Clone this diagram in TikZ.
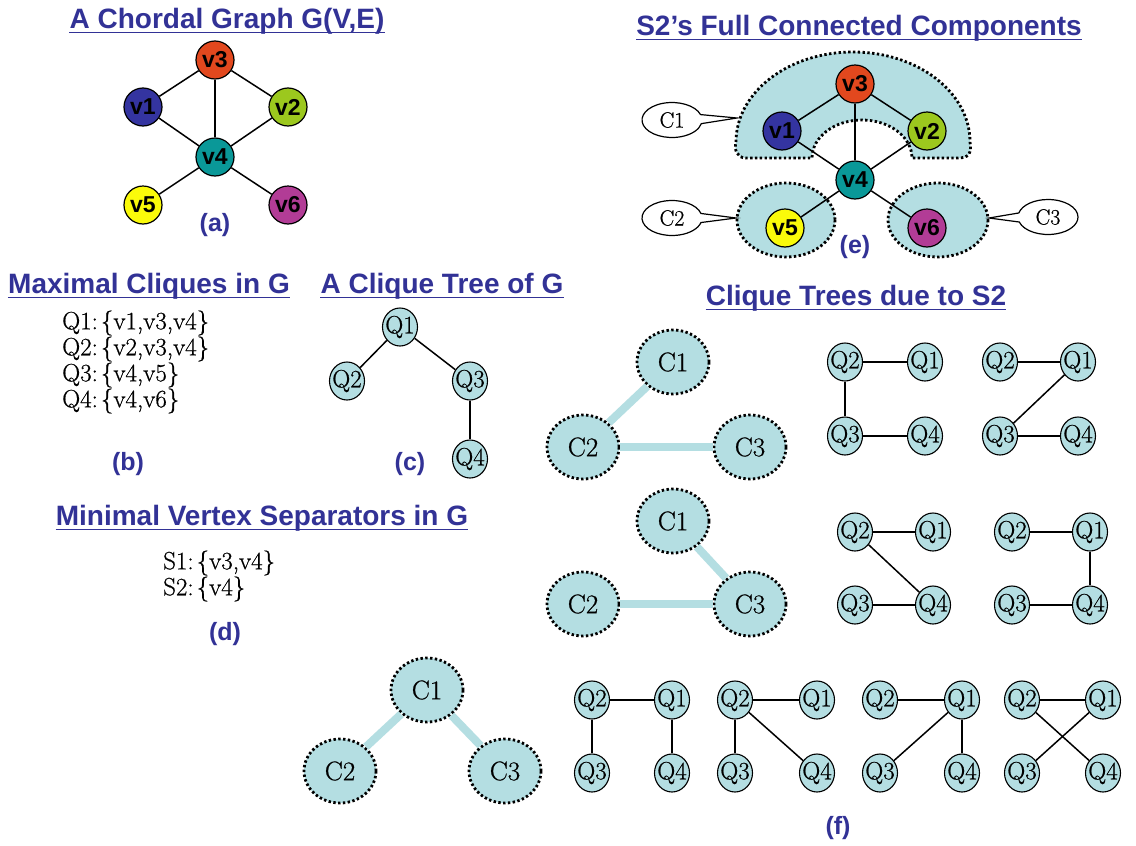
\documentclass[tikz,border=0pt]{standalone}
\usepackage{fontspec}
\usetikzlibrary{shapes.geometric,shapes.callouts,backgrounds}
\newfontfamily\arialb{Liberation Sans}
\newfontfamily\cmfont{Latin Modern Roman}[FakeBold=0.6]
\definecolor{tblue}{RGB}{50,50,150}
\definecolor{cfill}{RGB}{180,222,226}
\definecolor{cv1}{RGB}{52,52,160}
\definecolor{cv2}{RGB}{156,200,30}
\definecolor{cv3}{RGB}{226,72,30}
\definecolor{cv4}{RGB}{10,152,152}
\definecolor{cv5}{RGB}{250,250,10}
\definecolor{cv6}{RGB}{178,60,150}
\tikzset{
  ttl/.style={font=\arialb\bfseries\fontsize{28}{32}\selectfont, text=tblue, inner sep=0pt, anchor=base},
  uline/.style={draw=tblue, line width=1.8pt},
  lab/.style={font=\arialb\bfseries\fontsize{25}{28}\selectfont, text=tblue, inner sep=0pt},
  vtx/.style={circle, draw=black, line width=1.2pt, minimum size=38pt, inner sep=0pt, font=\arialb\bfseries\fontsize{23}{24}\selectfont},
  qn/.style={ellipse, draw=black, line width=1.1pt, fill=cfill, minimum width=35pt, minimum height=38pt, inner xsep=-6.5pt, inner ysep=0pt, font=\cmfont\fontsize{25}{26}\selectfont},
  cn/.style={ellipse, draw=black, line width=2.8pt, dash pattern=on 2.4pt off 2.4pt, fill=cfill, minimum width=72pt, minimum height=64pt, inner sep=0pt, font=\cmfont\fontsize{27}{28}\selectfont},
  ed/.style={draw=black, line width=1.5pt},
  ced/.style={draw=cfill, line width=8pt},
  region/.style={fill=cfill, draw=black, line width=2.8pt, dash pattern=on 2.4pt off 2.4pt},
  txt/.style={font=\cmfont\fontsize{25}{28}\selectfont, inner sep=0pt, anchor=west},
  call/.style={ellipse callout, draw=black, line width=1.2pt, fill=white, minimum width=60pt, minimum height=35pt, inner sep=0pt, callout pointer arc=30, font=\cmfont\fontsize{22}{24}\selectfont},
}
\newcommand{\cs}{\hspace{0.12em}}
\begin{document}
\begin{tikzpicture}[x=1pt,y=-1pt]
\useasboundingbox[fill=white] (0,0) rectangle (1136,846);

% ---------- titles ----------
\node[ttl] (t1) at (227,28) {A Chordal Graph G(V,E)};
\node[ttl] (t2) at (859,35) {S2’s Full Connected Components};
\node[ttl] (t3) at (149,293) {Maximal Cliques in G};
\node[ttl] (t4) at (442,293) {A Clique Tree of G};
\node[ttl] (t5) at (856,305) {Clique Trees due to S2};
\node[ttl] (t6) at (262,525) {Minimal Vertex Separators in G};
\foreach \t in {t1,t2,t3,t4,t5,t6}{
  \draw[uline] ([yshift=-4.5pt]\t.base west) -- ([yshift=-4.5pt]\t.base east);
}

% ---------- (a) ----------
\node[vtx, fill=cv3] (a3) at (215,60) {v3};
\node[vtx, fill=cv1] (a1) at (143,107) {v1};
\node[vtx, fill=cv2] (a2) at (288,107) {v2};
\node[vtx, fill=cv4] (a4) at (215,157) {v4};
\node[vtx, fill=cv5] (a5) at (143,205) {v5};
\node[vtx, fill=cv6] (a6) at (288,205) {v6};
\foreach \u/\v in {a3/a1,a3/a2,a3/a4,a1/a4,a2/a4,a4/a5,a4/a6}{\draw[ed] (\u) -- (\v);}
\node[lab] (la) at (215,225) {(a)};

% ---------- (e) ----------
\path[region] (736,142) arc[start angle=180, end angle=360, x radius=117, y radius=90]
  .. controls (972,154) and (968,158) .. (958,158) -- (912,158)
  arc[start angle=0, end angle=-180, x radius=50, y radius=38]
  -- (746,158) .. controls (737,158) and (734,150) .. (736,142) -- cycle;
\path[region] (786,220) ellipse [x radius=49, y radius=37];
\path[region] (938,220) ellipse [x radius=50, y radius=37];
\node[vtx, fill=cv3] (e3) at (855,84) {v3};
\node[vtx, fill=cv1] (e1) at (782,131) {v1};
\node[vtx, fill=cv2] (e2) at (927,131) {v2};
\node[vtx, fill=cv4] (e4) at (855,180) {v4};
\node[vtx, fill=cv5] (e5) at (785,228) {v5};
\node[vtx, fill=cv6] (e6) at (927,228) {v6};
\foreach \u/\v in {e3/e1,e3/e2,e3/e4,e1/e4,e2/e4,e4/e5,e4/e6}{\draw[ed] (\u) -- (\v);}
\coordinate (p1) at (737,118);
\coordinate (p2) at (736,218);
\coordinate (p3) at (989,218);
\node[call, callout absolute pointer={(p1)}] (k1) at (672,120) {C1};
\node[call, callout absolute pointer={(p2)}] (k2) at (672,218) {C2};
\node[call, callout absolute pointer={(p3)}] (k3) at (1048,217) {C3};
\node[lab] (le) at (855,247) {(e)};

% ---------- (b) ----------
\node[txt] (b1) at (62,323) {Q1:\cs\{v1,v3,v4\}};
\node[txt] (b2) at (62,349) {Q2:\cs\{v2,v3,v4\}};
\node[txt] (b3) at (62,375) {Q3:\cs\{v4,v5\}};
\node[txt] (b4) at (62,401) {Q4:\cs\{v4,v6\}};
\node[lab] (lb) at (128,464) {(b)};

% ---------- (c) ----------
\node[qn] (c1) at (400,327) {Q1};
\node[qn] (c2) at (347,381) {Q2};
\node[qn] (c3) at (470,381) {Q3};
\node[qn] (c4) at (470,459) {Q4};
\draw[ed] (c1) -- (c2);
\draw[ed] (c1) -- (c3);
\draw[ed] (c3) -- (c4);
\node[lab] (lc) at (410,464) {(c)};

% ---------- (d) ----------
\node[txt] (d1) at (163,563) {S1:\cs\{v3,v4\}};
\node[txt] (d2) at (163,589) {S2:\cs\{v4\}};
\node[lab] (ld) at (225,634) {(d)};

% ---------- (f) row 1 ----------
\node[cn] (r1c1) at (673,362) {C1};
\node[cn] (r1c2) at (583,447) {C2};
\node[cn] (r1c3) at (750,447) {C3};
\draw[ced] (r1c1) -- (r1c2);
\draw[ced] (r1c2) -- (r1c3);

\node[qn] (a2q) at (845,362) {Q2};
\node[qn] (a1q) at (925,362) {Q1};
\node[qn] (a3q) at (845,436) {Q3};
\node[qn] (a4q) at (925,436) {Q4};
\draw[ed] (a2q) -- (a1q); \draw[ed] (a2q) -- (a3q); \draw[ed] (a3q) -- (a4q);

\node[qn] (b2q) at (1000,362) {Q2};
\node[qn] (b1q) at (1078,362) {Q1};
\node[qn] (b3q) at (1000,436) {Q3};
\node[qn] (b4q) at (1078,436) {Q4};
\draw[ed] (b2q) -- (b1q); \draw[ed] (b1q) -- (b3q); \draw[ed] (b3q) -- (b4q);

% ---------- (f) row 2 ----------
\node[cn] (r2c1) at (673,521) {C1};
\node[cn] (r2c2) at (583,604) {C2};
\node[cn] (r2c3) at (750,604) {C3};
\draw[ced] (r2c1) -- (r2c3);
\draw[ced] (r2c2) -- (r2c3);

\node[qn] (c2q) at (855,532) {Q2};
\node[qn] (c1q) at (933,532) {Q1};
\node[qn] (c3q) at (855,605) {Q3};
\node[qn] (c4q) at (933,605) {Q4};
\draw[ed] (c2q) -- (c1q); \draw[ed] (c2q) -- (c4q); \draw[ed] (c3q) -- (c4q);

\node[qn] (d2q) at (1012,532) {Q2};
\node[qn] (d1q) at (1090,532) {Q1};
\node[qn] (d3q) at (1012,605) {Q3};
\node[qn] (d4q) at (1090,605) {Q4};
\draw[ed] (d2q) -- (d1q); \draw[ed] (d1q) -- (d4q); \draw[ed] (d3q) -- (d4q);

% ---------- (f) row 3 ----------
\node[cn] (r3c1) at (427,690) {C1};
\node[cn] (r3c2) at (340,771) {C2};
\node[cn] (r3c3) at (505,771) {C3};
\draw[ced] (r3c1) -- (r3c2);
\draw[ced] (r3c1) -- (r3c3);

\node[qn] (e2q) at (592,700) {Q2};
\node[qn] (e1q) at (672,700) {Q1};
\node[qn] (e3q) at (592,773) {Q3};
\node[qn] (e4q) at (672,773) {Q4};
\draw[ed] (e2q) -- (e1q); \draw[ed] (e2q) -- (e3q); \draw[ed] (e1q) -- (e4q);

\node[qn] (f2q) at (735,700) {Q2};
\node[qn] (f1q) at (817,700) {Q1};
\node[qn] (f3q) at (735,773) {Q3};
\node[qn] (f4q) at (817,773) {Q4};
\draw[ed] (f2q) -- (f1q); \draw[ed] (f2q) -- (f3q); \draw[ed] (f2q) -- (f4q);

\node[qn] (g2q) at (880,700) {Q2};
\node[qn] (g1q) at (962,700) {Q1};
\node[qn] (g3q) at (880,773) {Q3};
\node[qn] (g4q) at (962,773) {Q4};
\draw[ed] (g2q) -- (g1q); \draw[ed] (g1q) -- (g3q); \draw[ed] (g1q) -- (g4q);

\node[qn] (h2q) at (1022,700) {Q2};
\node[qn] (h1q) at (1103,700) {Q1};
\node[qn] (h3q) at (1022,773) {Q3};
\node[qn] (h4q) at (1103,773) {Q4};
\draw[ed] (h2q) -- (h1q); \draw[ed] (h2q) -- (h4q); \draw[ed] (h1q) -- (h3q);

\node[lab] (lf) at (838,828) {(f)};
\end{tikzpicture}
\end{document}
